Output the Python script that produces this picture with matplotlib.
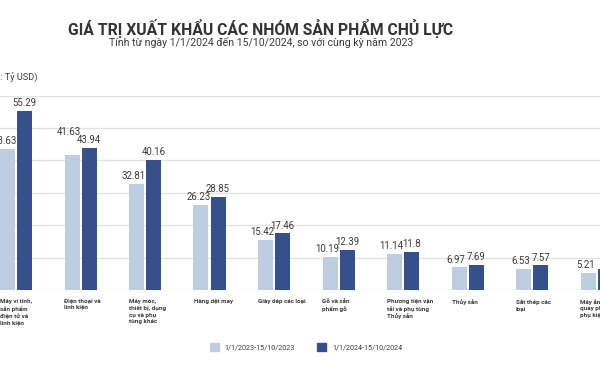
import matplotlib
matplotlib.use("Agg")
import matplotlib.pyplot as plt
import numpy as np
from matplotlib.patches import Patch

plt.rcParams['font.family'] = ['Roboto', 'DejaVu Sans']

categories = [
    "Máy vi tính,\nsản phẩm\nđiện tử và\nlinh kiện",
    "Điện thoại và\nlinh kiện",
    "Máy móc,\nthiết bị, dụng\ncụ và phụ\ntùng khác",
    "Hàng dệt may",
    "Giày dép các loại",
    "Gỗ và sản\nphẩm gỗ",
    "Phương tiện vận\ntải và phụ tùng\nThủy sản",
    "Thủy sản",
    "Sắt thép các\nloại",
    "Máy ảnh, máy\nquay phim và\nphụ kiện",
]
val_2023 = [43.63, 41.63, 32.81, 26.23, 15.42, 10.19, 11.14, 6.97, 6.53, 5.21]
val_2024 = [55.29, 43.94, 40.16, 28.85, 17.46, 12.39, 11.8, 7.69, 7.57, 6.4]
series_names = ["1/1/2023-15/10/2023", "1/1/2024-15/10/2024"]

c_light = "#bfcde2"
c_dark = "#36508c"
txt = "#3a3a3a"

W, H = 600, 383
fig = plt.figure(figsize=(6, 3.83), dpi=100)
ax = fig.add_axes([0, 1 - 290 / H, 1, (290 - 95.7) / H])

x = np.arange(len(categories))
step = 64.5  # px per category
bw = 15 / step
gap = 2 / step
ax.bar(x - (bw + gap) / 2, val_2023, bw, color=c_light, zorder=3)
ax.bar(x + (bw + gap) / 2, val_2024, bw, color=c_dark, zorder=3)

ax.set_xlim(-16 / step, (W - 16) / step)
ax.set_ylim(0, 60)
ax.set_yticks(np.arange(0, 61, 10))
ax.grid(axis='y', color='#e3e3e3', linewidth=1, zorder=0)
ax.tick_params(left=False, bottom=False, labelleft=False, labelbottom=False)
for s in ax.spines.values():
    s.set_visible(False)

lifted = {1: 15}  # light label pushed up to avoid clash
for i in x:
    ax.annotate(f"{val_2023[i]:g}", (i - (bw + gap) / 2, val_2023[i]),
                xytext=(-2, 2 + lifted.get(i, 0) * 0.72), textcoords='offset points',
                ha='center', va='bottom', fontsize=6.9, color=txt, zorder=4)
    ax.annotate(f"{val_2024[i]:g}", (i + (bw + gap) / 2, val_2024[i]),
                xytext=(0, 2), textcoords='offset points',
                ha='center', va='bottom', fontsize=6.9, color=txt, zorder=4)
    ax.text(i - gap / 2 - bw, -2.8, categories[i], ha='left', va='top',
            fontsize=4.5, fontweight='bold', color=txt, linespacing=1.35)

fig.text(261 / W, 1 - 28 / H, "GIÁ TRỊ XUẤT KHẨU CÁC NHÓM SẢN PHẨM CHỦ LỰC",
         ha='center', va='center', fontsize=11.3, fontweight='bold', color="#333333")
fig.text(261 / W, 1 - 43 / H, "Tính từ ngày 1/1/2024 đến 15/10/2024, so với cùng kỳ năm 2023",
         ha='center', va='center', fontsize=7.6, color=txt)
fig.text(38 / W, 1 - 78 / H, "(Đơn vị: Tỷ USD)", ha='right', va='center',
         fontsize=6.6, color=txt)

handles = [Patch(color=c_light), Patch(color=c_dark)]
fig.legend(handles, series_names, loc='center', bbox_to_anchor=(306 / W, 1 - 347.5 / H),
           ncol=2, frameon=False, fontsize=5.2, handlelength=1.3, handleheight=1.3,
           handletextpad=0.8, columnspacing=3.0, labelcolor=txt)

fig.savefig("out.png", dpi=100)
